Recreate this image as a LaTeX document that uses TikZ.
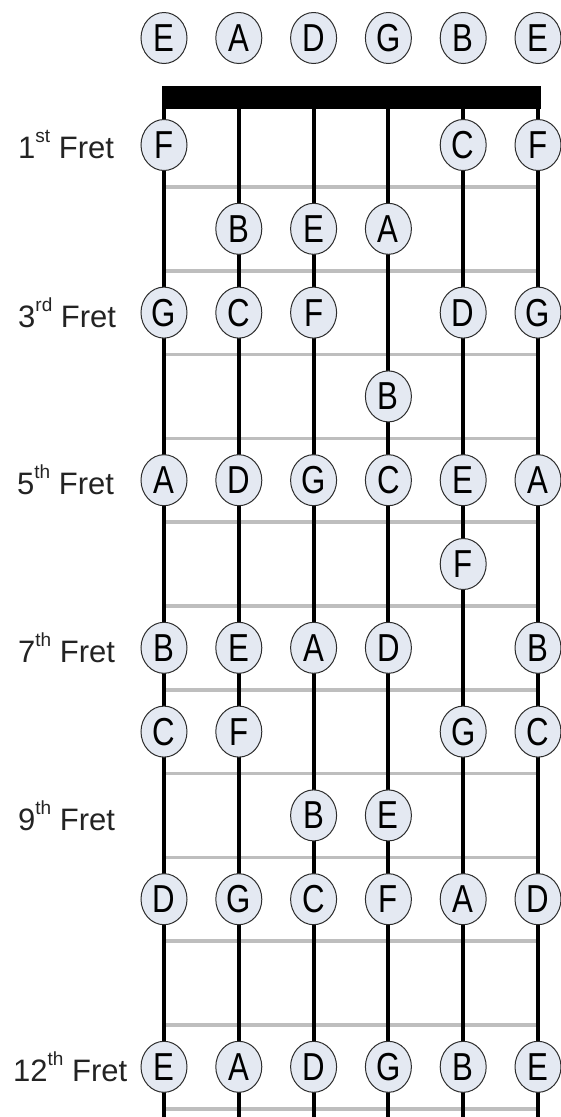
\documentclass[tikz,border=0pt]{standalone}
\usepackage{fontspec}
\usepackage{graphicx}
\setmainfont{Liberation Sans}
\usetikzlibrary{shapes.geometric}
\definecolor{notefill}{RGB}{228,233,242}
\definecolor{noteline}{RGB}{45,45,45}
\definecolor{fretgray}{RGB}{190,190,190}
\definecolor{labelink}{RGB}{35,35,35}
% ordinal suffix raised above the digit
\newcommand{\ordsup}[1]{\raisebox{16pt}{\fontsize{19}{19}\selectfont #1}}
% narrow note letter
\newcommand{\notename}[1]{\scalebox{0.8}[1]{#1}}
\begin{document}
\begin{tikzpicture}[x=1pt,y=-1pt,
  note/.style={ellipse, draw=noteline, line width=1pt, fill=notefill,
    minimum width=46pt, minimum height=51pt, inner sep=0pt,
    font=\fontsize{39}{39}\selectfont, text=black},
  fretlabel/.style={anchor=west, inner sep=0pt,
    font=\fontsize{31}{36}\selectfont, text=labelink},
  stringline/.style={line width=4pt, draw=black},
  fretline/.style={draw=fretgray, line width=3.5pt}]
\useasboundingbox (0,0) rectangle (560,1117);

% string positions: top at the nut, bottom at the lower edge
\foreach \i in {1,...,6} {
  \coordinate (top\i) at ({164+74.8*(\i-1)},109);
  \coordinate (bot\i) at ({164+74.8*(\i-1)},1117);
}

% frets
\foreach \k in {1,...,12} {
  \coordinate (fl\k) at (164,{187+83.8*(\k-1)});
  \coordinate (fr\k) at (538,{187+83.8*(\k-1)});
  \draw[fretline] (fl\k) -- (fr\k);
}

% nut
\fill[black] (162,86) rectangle (541,109);

% strings
\foreach \i in {1,...,6}
  \draw[stringline] (top\i) -- (bot\i);

% open strings
\foreach \i/\l in {1/E,2/A,3/D,4/G,5/B,6/E}
  \node[note] (open\i) at ({164+74.8*(\i-1)},38) {\notename{\l}};

% fretted notes: row/string/name
\foreach \r/\s/\l in {
  1/1/F, 1/5/C, 1/6/F,
  2/2/B, 2/3/E, 2/4/A,
  3/1/G, 3/2/C, 3/3/F, 3/5/D, 3/6/G,
  4/4/B,
  5/1/A, 5/2/D, 5/3/G, 5/4/C, 5/5/E, 5/6/A,
  6/5/F,
  7/1/B, 7/2/E, 7/3/A, 7/4/D, 7/6/B,
  8/1/C, 8/2/F, 8/5/G, 8/6/C,
  9/3/B, 9/4/E,
  10/1/D, 10/2/G, 10/3/C, 10/4/F, 10/5/A, 10/6/D,
  12/1/E, 12/2/A, 12/3/D, 12/4/G, 12/5/B, 12/6/E}
  \node[note] (n\r-\s) at ({164+74.8*(\s-1)},{145+83.8*(\r-1)}) {\notename{\l}};

% fret labels
\node[fretlabel] (lab1)  at (18,145)   {1\ordsup{st} Fret};
\node[fretlabel] (lab3)  at (18,312.6) {3\ordsup{rd} Fret};
\node[fretlabel] (lab5)  at (17,480.2) {5\ordsup{th} Fret};
\node[fretlabel] (lab7)  at (18,647.8) {7\ordsup{th} Fret};
\node[fretlabel] (lab9)  at (18,815.4) {9\ordsup{th} Fret};
\node[fretlabel] (lab12) at (13,1066.8) {12\ordsup{th} Fret};
\end{tikzpicture}
\end{document}
